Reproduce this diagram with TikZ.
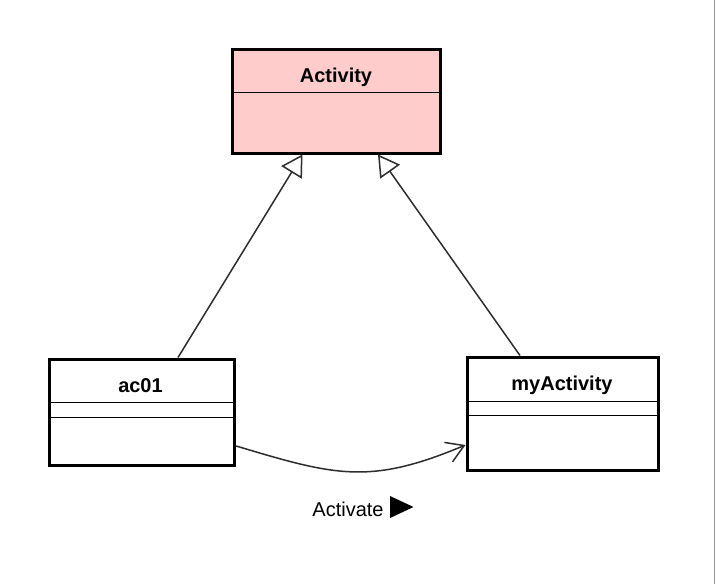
\documentclass[tikz,border=0pt]{standalone}
\usepackage{fontspec}
\setmainfont{Liberation Sans}
\usetikzlibrary{arrows.meta,calc}
\definecolor{pinkc}{RGB}{255,204,204}
\definecolor{linec}{RGB}{45,45,45}
\definecolor{edgegray}{RGB}{150,150,150}
\begin{document}
\begin{tikzpicture}[x=1pt,y=-1pt,
  cls/.style={draw=black,line width=3pt,rectangle,inner sep=0pt},
  title/.style={anchor=base,font=\fontsize{20}{24}\selectfont\bfseries,inner sep=0pt},
  plainlabel/.style={anchor=base,font=\fontsize{20}{24}\selectfont,inner sep=0pt},
  divider/.style={draw=black,line width=1.3pt},
  conn/.style={draw=linec,line width=1.5pt},
  gen/.style={conn,-{Triangle[open,length=21pt,width=24pt]}},
  assoc/.style={conn,-{Straight Barb[length=17pt,width=21pt]}}]
\useasboundingbox (0,0) rectangle (716,584);
\fill[white] (0,0) rectangle (716,584);
\draw[edgegray,line width=1.2pt] (714.5,0) -- (714.5,584);

% class boxes
\node[cls,fill=pinkc,minimum width=208pt,minimum height=104pt] (act) at (336,101) {};
\node[cls,fill=white,minimum width=185.7pt,minimum height=106pt] (ac) at (141.85,412) {};
\node[cls,fill=white,minimum width=191.7pt,minimum height=113pt] (my) at (562.85,413.5) {};

% dividers
\draw[divider] ($(act.north west)+(0,45.2)$) -- ($(act.north east)+(0,45.2)$);
\draw[divider] ($(ac.north west)+(0,45.2)$) -- ($(ac.north east)+(0,45.2)$);
\draw[divider] ($(ac.north west)+(0,59.8)$) -- ($(ac.north east)+(0,59.8)$);
\draw[divider] ($(my.north west)+(0,46.2)$) -- ($(my.north east)+(0,46.2)$);
\draw[divider] ($(my.north west)+(0,60.2)$) -- ($(my.north east)+(0,60.2)$);

% titles
\node[title] (actT) at (336,82.7) {Activity};
\node[title] (acT) at (140.5,392) {ac01};
\node[title] (myT) at (562,390.7) {myActivity};

% generalizations
\draw[gen] ($(ac.north west)+(130.5,0)$) -- ($(act.south west)+(72,0)$);
\draw[gen] ($(my.north west)+(54.5,0)$) -- ($(act.south west)+(147.5,0)$);

% association
\draw[assoc] ($(ac.east)+(0,34)$) .. controls (336,476) and (370,485) .. ($(my.west)+(0,31.5)$);

% label
\node[plainlabel] (lbl) at (348,516) {Activate};
\fill[black] (390,496) -- (413.5,507) -- (390,518) -- cycle;
\end{tikzpicture}
\end{document}
